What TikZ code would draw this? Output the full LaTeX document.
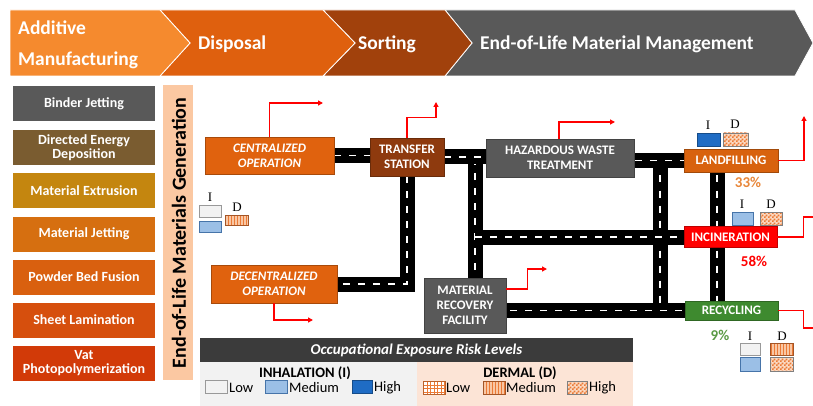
\documentclass[tikz,border=0pt]{standalone}
\usepackage{fontspec}
\setmainfont{Carlito}
\newfontfamily\idfont{Liberation Serif}
\usetikzlibrary{patterns,backgrounds,arrows.meta,calc}
\pgfdeclarepatternformonly{finecheck}{\pgfqpoint{0pt}{0pt}}{\pgfqpoint{4pt}{4pt}}{\pgfqpoint{4pt}{4pt}}{%
  \pgfpathrectangle{\pgfqpoint{0pt}{0pt}}{\pgfqpoint{2pt}{2pt}}%
  \pgfpathrectangle{\pgfqpoint{2pt}{2pt}}{\pgfqpoint{2pt}{2pt}}%
  \pgfusepath{fill}}
\pgfdeclarepatternformonly{finegrid}{\pgfqpoint{-0.5pt}{-0.5pt}}{\pgfqpoint{3.5pt}{3.5pt}}{\pgfqpoint{3.5pt}{3.5pt}}{%
  \pgfsetlinewidth{0.6pt}%
  \pgfpathmoveto{\pgfqpoint{0pt}{0pt}}\pgfpathlineto{\pgfqpoint{3.5pt}{0pt}}%
  \pgfpathmoveto{\pgfqpoint{0pt}{0pt}}\pgfpathlineto{\pgfqpoint{0pt}{3.5pt}}%
  \pgfusepath{stroke}}
\pgfdeclarepatternformonly{finevert}{\pgfqpoint{-0.5pt}{-0.5pt}}{\pgfqpoint{3pt}{3pt}}{\pgfqpoint{3pt}{3pt}}{%
  \pgfsetlinewidth{1pt}%
  \pgfpathmoveto{\pgfqpoint{0pt}{-0.5pt}}\pgfpathlineto{\pgfqpoint{0pt}{3.5pt}}%
  \pgfusepath{stroke}}
\definecolor{hdra}{HTML}{F58A2E}
\definecolor{hdrb}{HTML}{DF600E}
\definecolor{hdrc}{HTML}{A1410C}
\definecolor{hdrd}{HTML}{595959}
\definecolor{amA}{HTML}{595959}
\definecolor{amB}{HTML}{7A5C30}
\definecolor{amC}{HTML}{C4860F}
\definecolor{amD}{HTML}{D66F10}
\definecolor{amE}{HTML}{D9600F}
\definecolor{amF}{HTML}{D64F0D}
\definecolor{amG}{HTML}{D23A08}
\definecolor{band}{HTML}{FBC8A2}
\definecolor{opc}{HTML}{E0620E}
\definecolor{tsc}{HTML}{8E3A0E}
\definecolor{grc}{HTML}{595959}
\definecolor{lfc}{HTML}{D8620E}
\definecolor{lfp}{HTML}{E8873A}
\definecolor{incc}{HTML}{FF0000}
\definecolor{recc}{HTML}{3E8A2F}
\definecolor{recp}{HTML}{5A9A45}
\definecolor{hiblue}{HTML}{1F6CC4}
\definecolor{medblue}{HTML}{9BBFE6}
\definecolor{dor}{HTML}{EB7A36}
\definecolor{dorl}{HTML}{F9C7A4}
\definecolor{dorck}{HTML}{FBD9C2}
\definecolor{legbar}{HTML}{3B3B3B}
\definecolor{legl}{HTML}{F2F2F2}
\definecolor{legr}{HTML}{FCE4D6}
\tikzset{
  hdrtxt/.style={text=white, font=\fontsize{19.5}{23}\selectfont\bfseries, anchor=west, inner sep=0},
  chev/.style={fill=#1, draw=white, line width=0.8pt},
  ambox/.style={fill=#1, text=white, minimum width=142pt, minimum height=35pt, inner sep=0, align=center,
    font=\fontsize{14}{14}\selectfont\bfseries},
  pbox/.style={fill=#1, draw=#1!75!black, line width=0.6pt, text=white, inner sep=0, align=center,
    font=\fontsize{13}{15}\selectfont\bfseries},
  road/.style={draw=black, line width=15pt, line join=miter,
    postaction={draw=white, line width=1.4pt, dash pattern=on 7pt off 8pt}},
  redarr/.style={draw=red, line width=1.4pt, -{Triangle[length=5pt,width=5pt]}},
  redline/.style={draw=red, line width=1.4pt},
  pct/.style={font=\fontsize{15}{17}\selectfont\bfseries, inner sep=0},
  idl/.style={font=\idfont\fontsize{13}{14}\selectfont, inner sep=0},
  lowI/.style={fill=legl, draw=gray!80, line width=0.6pt},
  medI/.style={fill=medblue, draw=hiblue!60!gray, line width=0.6pt},
  highI/.style={fill=hiblue, draw=hiblue!70!black, line width=0.6pt},
  lowD/.style={preaction={fill=white}, pattern=finegrid, pattern color=dor, draw=dor!80!black, line width=0.6pt},
  medD/.style={preaction={fill=dorl}, pattern=finevert, pattern color=dor, draw=dor!70!black, line width=0.6pt},
  highD/.style={preaction={fill=dorck}, pattern=finecheck, pattern color=dor, draw=gray, line width=0.6pt},
  legtxt/.style={font=\fontsize{14.5}{16}\selectfont, anchor=west, inner sep=0},
  leghd/.style={font=\fontsize{14.5}{16}\selectfont\bfseries, inner sep=0}
}
\begin{document}
\begin{tikzpicture}[x=1pt, y=-1pt]
\useasboundingbox (0,0) rectangle (813,406);
% header chevrons
\path[chev=hdrd] (445,10) -- (795,10) -- (813,43) -- (795,76) -- (445,76) -- (472,43) -- cycle;
\path[chev=hdrc] (323,10) -- (445,10) -- (472,43) -- (445,76) -- (323,76) -- (355,43) -- cycle;
\path[chev=hdrb] (160,10) -- (323,10) -- (355,43) -- (323,76) -- (160,76) -- (190,43) -- cycle;
\path[chev=hdra] (10,10) -- (160,10) -- (190,43) -- (160,76) -- (10,76) -- cycle;
\node[hdrtxt] (h1a) at (18,28) {Additive};
\node[hdrtxt] (h1b) at (18,60) {Manufacturing};
\node[hdrtxt] (h2) at (198,44) {Disposal};
\node[hdrtxt] (h3) at (358,44) {Sorting};
\node[hdrtxt] (h4) at (480,44) {End-of-Life Material Management};
% AM process boxes
\node[ambox=amA] (bj) at (84,104) {Binder Jetting};
\node[ambox=amB] (ded) at (84,147.5) {Directed Energy\\Deposition};
\node[ambox=amC] (mex) at (84,190.5) {Material Extrusion};
\node[ambox=amD] (mjt) at (84,234) {Material Jetting};
\node[ambox=amE] (pbf) at (84,277) {Powder Bed Fusion};
\node[ambox=amF] (shl) at (84,320) {Sheet Lamination};
\node[ambox=amG] (vat) at (84,363) {Vat\\Photopolymerization};
% band
\node[fill=band, minimum width=30pt, minimum height=295pt, inner sep=0] (bandn) at (178,232.5) {};
\node[rotate=90, font=\fontsize{20}{22}\selectfont\bfseries, inner sep=0] (bandt) at (179,233) {End-of-Life Materials Generation};
% process nodes
\node[pbox=opc, minimum width=129pt, minimum height=37pt, font=\fontsize{13}{15}\selectfont\bfseries\itshape] (cen) at (269.5,155.5) {CENTRALIZED\\OPERATION};
\node[pbox=tsc, minimum width=74pt, minimum height=38pt] (ts) at (407,157) {TRANSFER\\STATION};
\node[pbox=grc, minimum width=148pt, minimum height=38pt] (hw) at (560,158) {HAZARDOUS WASTE\\TREATMENT};
\node[pbox=lfc, minimum width=94pt, minimum height=23pt] (lf) at (731,160.5) {LANDFILLING};
\node[pbox=incc, minimum width=93pt, minimum height=21pt] (inc) at (730.5,237) {INCINERATION};
\node[pbox=recc, minimum width=93pt, minimum height=19pt] (rec) at (731.5,310.5) {RECYCLING};
\node[pbox=opc, minimum width=126pt, minimum height=38pt, font=\fontsize{13}{15}\selectfont\bfseries\itshape] (dec) at (274,284) {DECENTRALIZED\\OPERATION};
\node[pbox=grc, minimum width=82pt, minimum height=55pt] (mrf) at (465,305.5) {MATERIAL\\RECOVERY\\FACILITY};
% junctions
\coordinate (j1) at (475,158);
\coordinate (j2) at (660,160.5);
\coordinate (j3) at (717,160.5);
% roads
\begin{pgfonlayer}{background}
\draw[road] (j1) -- (j1 |- mrf.north);
\draw[road] (j2) -- (j2 |- rec);
\draw[road] (j3) -- (j3 |- rec);
\draw[road] (j1 |- inc) -- (inc);
\draw[road] (rec -| mrf) -- (rec);
\draw[road] (lf -| hw) -- (lf);
\draw[road] (cen) -- (cen -| ts);
\draw[road] (ts) -- (ts -| hw);
\draw[road] (ts) |- (dec);
\end{pgfonlayer}
% red outflow arrows
\coordinate (cenout) at (323,103);
\coordinate (tsout) at (436,102);
\coordinate (hwout) at (615,122);
\coordinate (lfout) at (804,116);
\coordinate (incout) at (813,217);
\coordinate (recout) at (813,328);
\coordinate (decout) at (313,320);
\coordinate (mrfout) at (547,269);
\draw[redarr] (cen.north) |- (cenout);
\draw[redarr] (ts.north) -- ++(0,-20) -| (tsout);
\draw[redarr] ([xshift=-1pt]hw.north) |- (hwout);
\draw[redarr] (lf.east) -| (lfout);
\draw[redline] (inc.east) -- ++(26,0) |- (incout);
\draw[redline] (rec.east) -- ++(25,0) |- (recout);
\draw[redarr] (dec.south) |- (decout);
\draw[redarr] ([yshift=16.5pt]mrf.east) -- ++(21,0) |- (mrfout);
% percentages
\node[pct, text=lfp] (p33) at (748,182) {33\%};
\node[pct, text=incc] (p58) at (754,261) {58\%};
\node[pct, text=recp] (p9) at (720,335) {9\%};
% I/D indicators: left
\node[idl] (ali) at (210,197) {I};
\node[idl] (ald) at (237,207) {D};
\draw[lowI] (199,205) rectangle (221,217);
\draw[medI] (199,221) rectangle (221,232);
\draw[medD] (225,215) rectangle (248,225);
% landfilling
\node[idl] (bli) at (708,125) {I};
\node[idl] (bld) at (735,124) {D};
\draw[highI] (697,133) rectangle (720,146);
\draw[highD] (723,133) rectangle (748,146);
% incineration
\node[idl] (cli) at (742,204) {I};
\node[idl] (cld) at (771,204) {D};
\draw[medI] (732,212) rectangle (753,225);
\draw[highD] (760,212) rectangle (782,225);
% recycling
\node[idl] (dli) at (750,336) {I};
\node[idl] (dld) at (782,336) {D};
\draw[lowI] (740,343) rectangle (760,355);
\draw[medI] (740,357) rectangle (760,371);
\draw[medD] (770,343) rectangle (793,355);
\draw[highD] (770,357) rectangle (793,371);
% legend
\fill[legl] (200,362) rectangle (417,406);
\fill[legr] (417,362) rectangle (633,406);
\node[fill=legbar, minimum width=433pt, minimum height=24pt, inner sep=0, text=white,
  font=\fontsize{15}{17}\selectfont\bfseries\itshape] (legt) at (416.5,350) {Occupational Exposure Risk Levels};
\node[leghd] (legi) at (305,373) {INHALATION (I)};
\node[leghd] (legd) at (520,373) {DERMAL (D)};
\draw[lowI] (205,380) rectangle (227,393);
\node[legtxt] (l1) at (229,387.5) {Low};
\draw[medI] (265,380) rectangle (287,393);
\node[legtxt] (l2) at (289,387.5) {Medium};
\draw[highI] (352,380) rectangle (372,393);
\node[legtxt] (l3) at (374,387.5) {High};
\draw[lowD] (423,381) rectangle (445,394);
\node[legtxt] (l4) at (446,388) {Low};
\draw[medD] (483,381) rectangle (505,394);
\node[legtxt] (l5) at (506,388) {Medium};
\draw[highD] (567,381) rectangle (587,394);
\node[legtxt] (l6) at (589,388) {High};
\end{tikzpicture}
\end{document}
